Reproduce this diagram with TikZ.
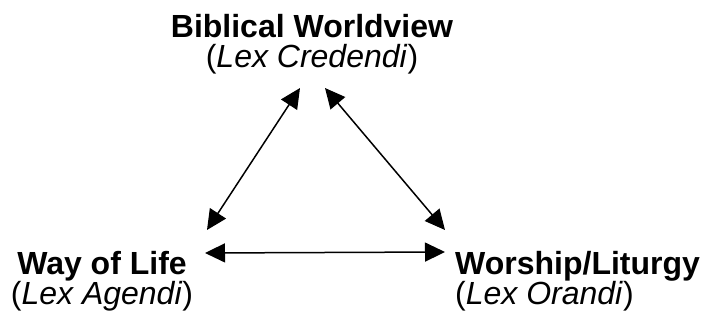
\documentclass[tikz,border=0pt]{standalone}
\usepackage{fontspec}
\setmainfont{Liberation Sans}
\usetikzlibrary{arrows.meta,calc}
\begin{document}
\begin{tikzpicture}[x=1pt,y=-1pt,
  lbl/.style={inner sep=0pt,font=\fontsize{32}{30}\selectfont},
  conn/.style={line width=1.5pt,{Triangle[length=20pt,width=19pt]}-{Triangle[length=20pt,width=19pt]}}]
\useasboundingbox (0,0) rectangle (710,320);
\node[lbl,align=center,anchor=base] (top) at (312,68) {\textbf{Biblical Worldview}\\(\textit{Lex Credendi})};
\node[lbl,align=center,anchor=base] (left) at (102,305) {\textbf{Way of Life}\\(\textit{Lex Agendi})};
\node[lbl,align=left,anchor=base west] (right) at (455,305) {\textbf{Worship/Liturgy}\\(\textit{Lex Orandi})};
\draw[conn] ($(top.base)+(-12,20)$) -- ($(left.base)+(105,-75)$);
\draw[conn] ($(top.base)+(13,20)$) -- ($(right.base west)+(-10,-75)$);
\draw[conn] ($(left.base)+(103,-52)$) -- ($(right.base west)+(-10,-53)$);
\end{tikzpicture}
\end{document}
